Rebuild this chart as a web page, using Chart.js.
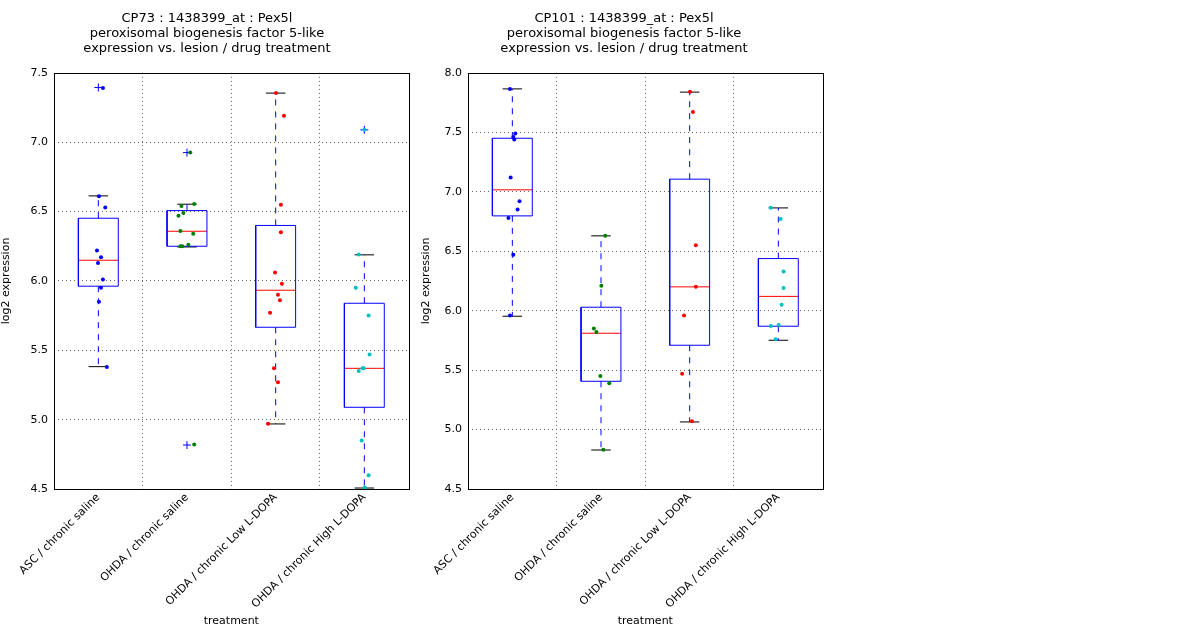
<!DOCTYPE html>
<html><head><meta charset="utf-8">
<script src="https://cdn.jsdelivr.net/npm/chart.js@4"></script>
<style>
body{margin:0;background:#fff;width:1200px;height:640px;overflow:hidden}
.p{position:absolute;top:0;height:640px}
</style></head>
<body>
<div class="p" style="left:0;width:420px"><canvas id="c1"></canvas></div>
<div class="p" style="left:420px;width:414px"><canvas id="c2"></canvas></div>
<script>
const categories = ["ASC / chronic saline", "OHDA / chronic saline", "OHDA / chronic Low L-DOPA", "OHDA / chronic High L-DOPA"];
const groupColors = ["#0000ff", "#008000", "#ff0000", "#00bfbf"];

// CP73 panel: box stats [whiskerLow, q1, median, q3, whiskerHigh]
const cp73Stats = [
  [5.382, 5.962, 6.149, 6.452, 6.613],
  [6.245, 6.250, 6.358, 6.507, 6.553],
  [4.969, 5.666, 5.933, 6.400, 7.354],
  [4.507, 5.089, 5.370, 5.839, 6.188]
];
const cp73Fliers = [[7.394], [6.925, 4.817], [], [7.089]];
const cp73Values = [
  [7.39, 6.61, 6.53, 6.22, 6.17, 6.13, 6.01, 5.95, 5.85, 5.38],
  [6.925, 6.555, 6.54, 6.49, 6.47, 6.36, 6.34, 6.26, 6.25, 6.25, 4.82],
  [7.355, 7.19, 6.55, 6.35, 6.06, 5.98, 5.90, 5.86, 5.77, 5.37, 5.27, 4.97],
  [7.09, 6.19, 5.95, 5.75, 5.47, 5.37, 5.37, 5.35, 4.85, 4.60, 4.51]
];
const cp73Jitter = [
  [0.052, 0.007, 0.078, -0.015, 0.03, -0.004, 0.052, 0.03, 0.007, 0.096],
  [0.037, 0.081, -0.063, -0.041, -0.096, -0.074, 0.07, 0.015, -0.074, -0.052, 0.081],
  [0.004, 0.093, 0.059, 0.059, -0.007, 0.07, 0.026, 0.048, -0.063, -0.019, 0.026, -0.085],
  [0, -0.063, -0.096, 0.048, 0.059, -0.019, -0.007, -0.063, -0.03, 0.048, 0.004]
];

// CP101 panel
const cp101Stats = [
  [5.953, 6.797, 7.016, 7.450, 7.865],
  [4.828, 5.406, 5.810, 6.029, 6.629],
  [5.064, 5.709, 6.200, 7.106, 7.838],
  [5.751, 5.869, 6.120, 6.438, 6.864]
];
const cp101Fliers = [[], [], [], []];
const cp101Values = [
  [7.865, 7.49, 7.46, 7.44, 7.12, 6.92, 6.85, 6.78, 6.47, 5.96],
  [6.63, 6.21, 5.85, 5.82, 5.45, 5.39, 4.83],
  [7.84, 7.67, 6.55, 6.20, 5.96, 5.47, 5.07],
  [6.866, 6.77, 6.33, 6.19, 6.05, 5.88, 5.87, 5.76]
];
const cp101Jitter = [
  [-0.026, 0.033, 0.011, 0.022, -0.019, 0.081, 0.059, -0.044, 0.011, -0.026],
  [0.048, 0.004, -0.081, -0.052, -0.007, 0.093, 0.026],
  [0.004, 0.037, 0.07, 0.07, -0.063, -0.085, 0.026],
  [-0.085, 0.026, 0.059, 0.059, 0.037, 0.004, -0.085, -0.03]
];

const BOX_HALF = 0.225, CAP_HALF = 0.11;

function seg(pts, color, dash) {
  return { type: 'scatter', showLine: true, data: pts, borderColor: color, borderWidth: 1,
    borderDash: dash || [], pointRadius: 0, pointHoverRadius: 0, fill: false, order: 2 };
}

function buildDatasets(stats, fliers, values, jitter) {
  const ds = [];
  stats.forEach((s, i) => {
    const x = i + 1;
    const [lo, q1, med, q3, hi] = s;
    ds.push(seg([{x: x - BOX_HALF, y: q1}, {x: x + BOX_HALF, y: q1}, {x: x + BOX_HALF, y: q3}, {x: x - BOX_HALF, y: q3}, {x: x - BOX_HALF, y: q1}], '#0000ff'));
    ds.push(seg([{x: x - BOX_HALF, y: med}, {x: x + BOX_HALF, y: med}], '#ff0000'));
    ds.push(seg([{x: x, y: q3}, {x: x, y: hi}], '#0000ff', [6, 6]));
    ds.push(seg([{x: x, y: q1}, {x: x, y: lo}], '#0000ff', [6, 6]));
    ds.push(seg([{x: x - CAP_HALF, y: hi}, {x: x + CAP_HALF, y: hi}], '#000000'));
    ds.push(seg([{x: x - CAP_HALF, y: lo}, {x: x + CAP_HALF, y: lo}], '#000000'));
    ds.push({ type: 'scatter', data: fliers[i].map(v => ({x: x, y: v})), pointStyle: 'cross',
      pointRadius: 4, borderColor: '#0000ff', borderWidth: 1, order: 1 });
    ds.push({ type: 'scatter', data: values[i].map((v, k) => ({x: x + jitter[i][k], y: v})),
      pointRadius: 2, backgroundColor: groupColors[i], borderColor: groupColors[i], borderWidth: 0, order: 0 });
  });
  return ds;
}

const frame = {
  id: 'frame',
  afterDraw(chart) {
    const a = chart.chartArea, ctx = chart.ctx;
    ctx.save();
    ctx.strokeStyle = '#000'; ctx.lineWidth = 1;
    ctx.strokeRect(Math.round(a.left) + 0.5, Math.round(a.top) + 0.5, Math.round(a.right - a.left), Math.round(a.bottom - a.top));
    ctx.restore();
  }
};

function drawPanel(id, title, stats, fliers, values, jitter, yMin, yMax, yAxisW) {
  new Chart(document.getElementById(id), {
    type: 'scatter',
    data: { datasets: buildDatasets(stats, fliers, values, jitter) },
    plugins: [frame],
    options: {
      responsive: true, maintainAspectRatio: false, animation: false,
      layout: { padding: { right: 6, left: 0 } },
      plugins: {
        legend: { display: false }, tooltip: { enabled: false },
        title: { display: true, text: title, color: '#000', font: { family: 'DejaVu Sans', size: 13, weight: 'normal', lineHeight: 1.15 }, padding: { top: 11, bottom: 17 } }
      },
      scales: {
        x: {
          type: 'linear', min: 0.5, max: 4.5,
          afterBuildTicks: s => { s.ticks = [0.5, 1, 1.5, 2, 2.5, 3, 3.5, 4, 4.5].map(v => ({ value: v })); },
          afterFit: s => { s.height = 151; },
          ticks: { autoSkip: false, minRotation: 45, maxRotation: 45, color: '#000', padding: 2,
            font: { family: 'DejaVu Sans', size: 11 },
            callback: v => Number.isInteger(v) ? categories[v - 1] : '' },
          grid: { drawTicks: false, color: c => (c.tick && c.tick.value % 1 === 0.5 && c.tick.value > 0.5 && c.tick.value < 4.5) ? '#666' : 'rgba(0,0,0,0)' },
          border: { display: false, dash: [1, 3] },
          title: { display: true, text: 'treatment', color: '#000', font: { family: 'DejaVu Sans', size: 11 }, padding: { top: 0, bottom: 12 } }
        },
        y: {
          min: yMin, max: yMax,
          afterFit: s => { s.width = yAxisW; },
          ticks: { stepSize: 0.5, color: '#000', padding: 6, font: { family: 'DejaVu Sans', size: 11 }, callback: v => v.toFixed(1) },
          grid: { drawTicks: false, color: c => (c.tick && c.tick.value > yMin && c.tick.value < yMax) ? '#666' : 'rgba(0,0,0,0)' },
          border: { display: false, dash: [1, 3] },
          title: { display: true, text: 'log2 expression', color: '#000', font: { family: 'DejaVu Sans', size: 11 }, padding: 0 }
        }
      }
    }
  });
}

drawPanel('c1', ['CP73 : 1438399_at : Pex5l', 'peroxisomal biogenesis factor 5-like', 'expression vs. lesion / drug treatment'],
  cp73Stats, cp73Fliers, cp73Values, cp73Jitter, 4.5, 7.5, 54);
drawPanel('c2', ['CP101 : 1438399_at : Pex5l', 'peroxisomal biogenesis factor 5-like', 'expression vs. lesion / drug treatment'],
  cp101Stats, cp101Fliers, cp101Values, cp101Jitter, 4.5, 8.0, 48);
</script>
</body></html>
